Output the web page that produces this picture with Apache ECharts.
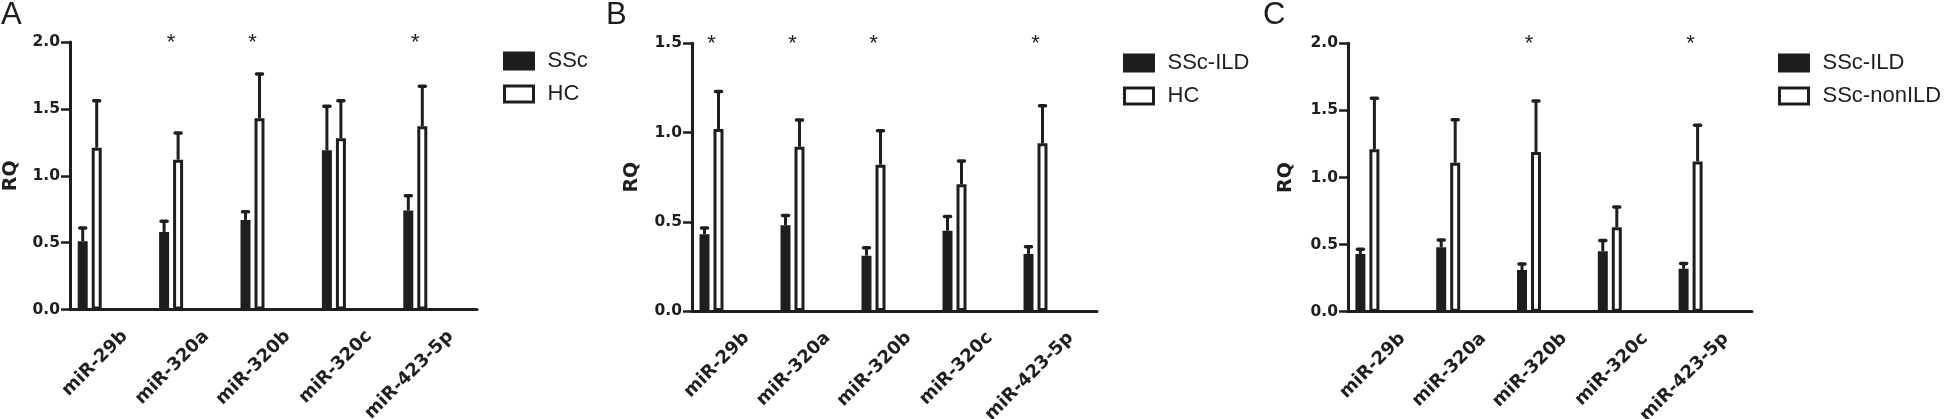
<!DOCTYPE html>
<html>
<head>
<meta charset="utf-8">
<script src="https://cdn.jsdelivr.net/npm/echarts@6/dist/echarts.min.js"></script>
<style>
  html, body { margin: 0; padding: 0; background: #fff; }
  #chart { width: 1946px; height: 419px; }
</style>
</head>
<body>
<div id="chart"></div>
<script>
// data
const categories = ["miR-29b", "miR-320a", "miR-320b", "miR-320c", "miR-423-5p"];

// A: SSc vs HC
const sscMean = [0.51, 0.58, 0.67, 1.19, 0.74];
const sscErr = [0.10, 0.08, 0.06, 0.33, 0.11];
const hcAMean = [1.21, 1.12, 1.43, 1.28, 1.37];
const hcAErr = [0.35, 0.20, 0.33, 0.28, 0.30];
const starsA = ["", "*", "*", "", "*"];
const yTicksA = [0, 0.5, 1.0, 1.5, 2.0];

// B: SSc-ILD vs HC
const ildMean = [0.43, 0.48, 0.31, 0.45, 0.32];
const ildErr = [0.035, 0.055, 0.045, 0.08, 0.04];
const hcBMean = [1.02, 0.92, 0.82, 0.71, 0.94];
const hcBErr = [0.21, 0.15, 0.19, 0.13, 0.21];
const starsB = ["*", "*", "*", "", "*"];
const yTicksB = [0, 0.5, 1.0, 1.5];

// C: SSc-ILD vs SSc-nonILD
const nonIldMean = [1.21, 1.11, 1.19, 0.63, 1.12];
const nonIldErr = [0.38, 0.32, 0.38, 0.15, 0.27];
const starsC = ["", "", "*", "", "*"];
const yTicksC = [0, 0.5, 1.0, 1.5, 2.0];

const INK = "#1e1e1e";
const TICK_FONT = "DejaVu Sans";
const TEXT_FONT = "Liberation Sans";

// bar geometry (5 slots per category, only first two used -> bars sit left of the tick)
const BAR_W = 10, BAR_GAP = "40%", SLOT = 14, SLOTS = 5;
const off0 = -(SLOTS - 1) * SLOT / 2;
const off1 = off0 + SLOT;

const panels = [
  { letter: "A", left: 70, width: 407, top: 42, bottom: 109.5, nameGap: 49,
    legendLeft: 503, legendTop: 50, letterLeft: 1,
    s1: "SSc", s2: "HC", m1: sscMean, e1: sscErr, m2: hcAMean, e2: hcAErr,
    stars: starsA, ticks: yTicksA },
  { letter: "B", left: 692, width: 405, top: 43.3, bottom: 108, nameGap: 50,
    legendLeft: 1123, legendTop: 52, letterLeft: 606,
    s1: "SSc-ILD", s2: "HC", m1: ildMean, e1: ildErr, m2: hcBMean, e2: hcBErr,
    stars: starsB, ticks: yTicksB },
  { letter: "C", left: 1348, width: 404, top: 43.3, bottom: 107.3, nameGap: 52,
    legendLeft: 1778, legendTop: 52, letterLeft: 1263,
    s1: "SSc-ILD", s2: "SSc-nonILD", m1: ildMean, e1: ildErr, m2: nonIldMean, e2: nonIldErr,
    stars: starsC, ticks: yTicksC }
];

const darkStyle = { color: INK, borderColor: INK, borderWidth: 3 };
const openStyle = { color: "#fff", borderColor: INK, borderWidth: 3 };

function errorRender(offset) {
  return function (params, api) {
    const i = api.value(0);
    const base = api.coord([i, api.value(1)]);
    const top = api.coord([i, api.value(1) + api.value(2)]);
    const x = base[0] + offset;
    return {
      type: "group",
      children: [
        { type: "line", shape: { x1: x, y1: base[1], x2: x, y2: top[1] },
          style: { stroke: INK, lineWidth: 3 } },
        { type: "line", shape: { x1: x - 3, y1: top[1], x2: x + 3, y2: top[1] },
          style: { stroke: INK, lineWidth: 3.5, lineCap: "round" } }
      ]
    };
  };
}

function starRender(params, api) {
  const p = api.coord([api.value(0), api.value(1)]);
  return {
    type: "text",
    style: {
      x: p[0] + (off0 + off1) / 2, y: p[1] + 1,
      text: "*", fill: INK, font: "22px " + TEXT_FONT,
      textAlign: "center", textVerticalAlign: "middle"
    }
  };
}

const option = {
  backgroundColor: "#fff",
  animation: false,
  title: [], legend: [], grid: [], xAxis: [], yAxis: [], series: []
};

panels.forEach(function (p, k) {
  const yMax = p.ticks[p.ticks.length - 1];
  option.title.push({
    text: p.letter, left: p.letterLeft, top: 0, padding: 0,
    textStyle: { fontFamily: TEXT_FONT, fontSize: 31, fontWeight: "normal", color: INK }
  });
  option.grid.push({
    left: p.left, width: p.width, top: p.top, bottom: p.bottom,
    containLabel: false, outerBoundsMode: "none"
  });
  option.xAxis.push({
    type: "category", gridIndex: k, data: categories,
    axisLine: { lineStyle: { color: INK, width: 3 } },
    axisTick: { alignWithLabel: true, length: 8, lineStyle: { color: INK, width: 2.5 } },
    axisLabel: {
      interval: 0, rotate: 45, margin: 10, color: INK,
      fontFamily: TICK_FONT, fontWeight: "bold", fontSize: 18,
      verticalAlign: "top", lineHeight: 40
    },
    splitLine: { show: false }
  });
  option.yAxis.push({
    type: "value", gridIndex: k, min: p.ticks[0], max: yMax, interval: p.ticks[1] - p.ticks[0],
    name: "RQ", nameLocation: "middle", nameRotate: 90, nameGap: p.nameGap,
    nameTextStyle: { fontFamily: TICK_FONT, fontWeight: "bold", fontSize: 19, color: INK },
    axisLine: { show: true, lineStyle: { color: INK, width: 3 } },
    axisTick: { show: true, length: 9, lineStyle: { color: INK, width: 2.5 } },
    axisLabel: {
      margin: 10, color: INK, fontFamily: TICK_FONT, fontWeight: "bold", fontSize: 15.5,
      formatter: function (v) { return v.toFixed(1); }
    },
    splitLine: { show: false }
  });
  option.legend.push({
    orient: "vertical", left: p.legendLeft, top: p.legendTop, padding: 0,
    itemWidth: 29, itemHeight: 16, itemGap: 11,
    textStyle: { fontFamily: TEXT_FONT, fontSize: 22, color: INK, lineHeight: 20, padding: [0, 0, 0, 9] },
    selectedMode: false,
    data: [
      { name: p.s1, itemStyle: darkStyle, icon: "rect" },
      { name: p.s2, itemStyle: openStyle, icon: "rect" }
    ]
  });
  const common = { type: "bar", xAxisIndex: k, yAxisIndex: k, barWidth: BAR_W, barGap: BAR_GAP, silent: true };
  option.series.push(Object.assign({}, common, { name: p.s1, data: p.m1, itemStyle: darkStyle, z: 2 }));
  option.series.push(Object.assign({}, common, { name: p.s2, data: p.m2, itemStyle: openStyle, z: 2 }));
  for (let j = 0; j < SLOTS - 2; j++) {
    option.series.push(Object.assign({}, common, { name: "_slot" + k + j, data: [] }));
  }
  option.series.push({
    type: "custom", xAxisIndex: k, yAxisIndex: k, z: 3, silent: true,
    renderItem: errorRender(off0),
    data: p.m1.map(function (m, i) { return [i, m, p.e1[i]]; })
  });
  option.series.push({
    type: "custom", xAxisIndex: k, yAxisIndex: k, z: 3, silent: true,
    renderItem: errorRender(off1),
    data: p.m2.map(function (m, i) { return [i, m, p.e2[i]]; })
  });
  option.series.push({
    type: "custom", xAxisIndex: k, yAxisIndex: k, z: 3, silent: true,
    renderItem: starRender,
    data: categories.map(function (c, i) { return [i, yMax]; })
      .filter(function (d, i) { return p.stars[i] === "*"; })
  });
});

const chart = echarts.init(document.getElementById("chart"));
chart.setOption(option);
window.addEventListener("resize", function () { chart.resize(); });
</script>
</body>
</html>
